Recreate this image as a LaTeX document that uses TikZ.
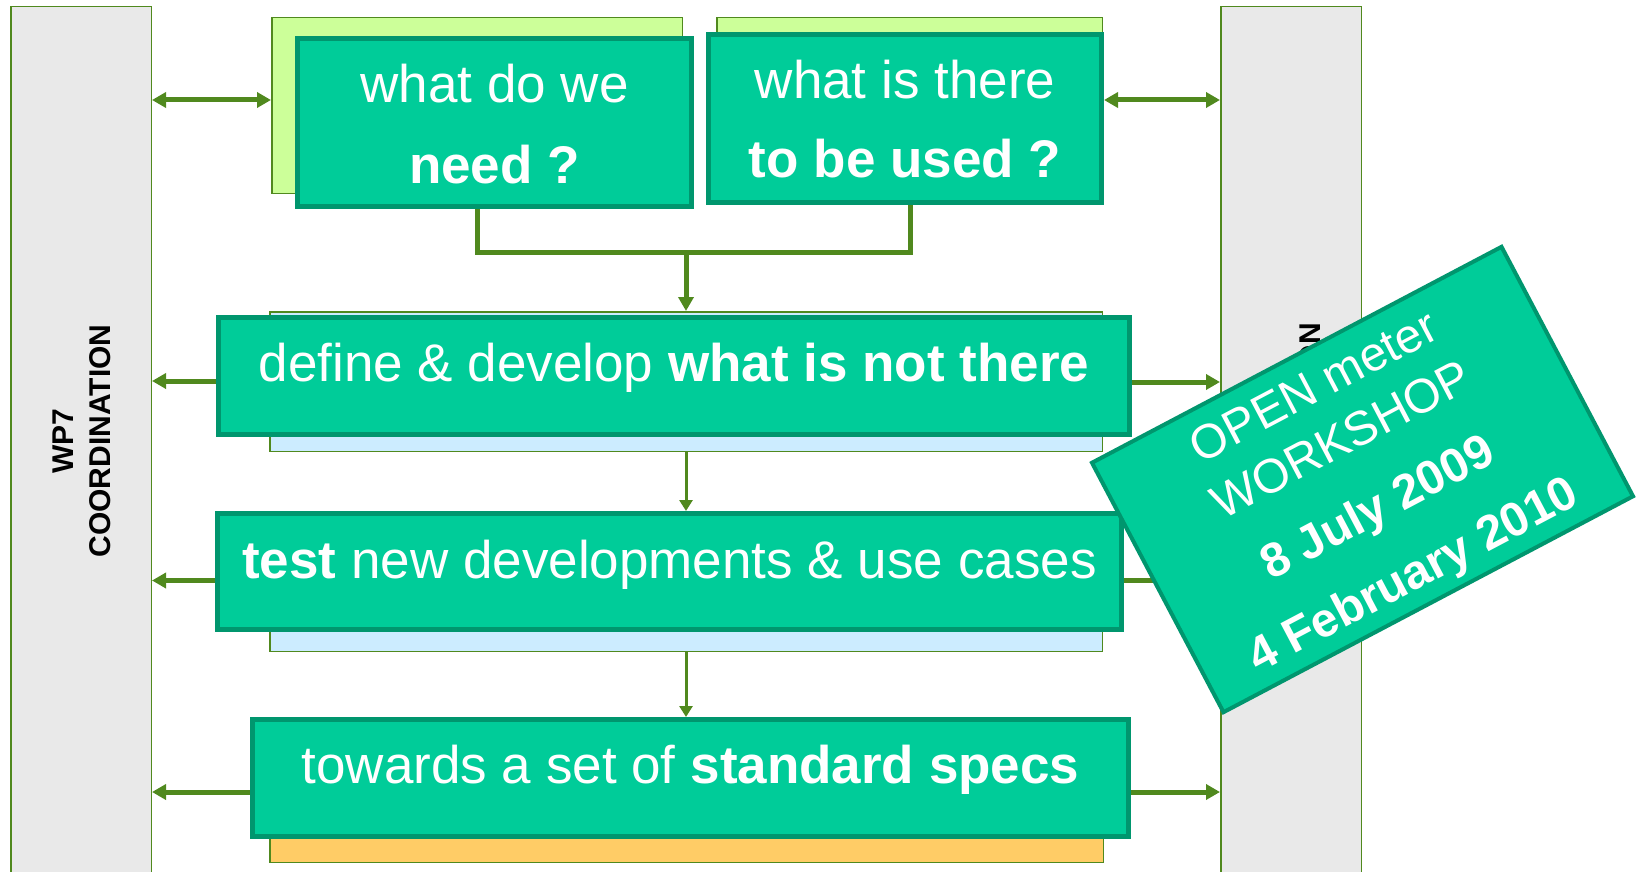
\documentclass[tikz,border=0pt]{standalone}
\usepackage{fontspec}
\setmainfont{Liberation Sans}
\usetikzlibrary{arrows.meta}
\definecolor{mainfill}{RGB}{0,204,153}
\definecolor{mainborder}{RGB}{0,150,110}
\definecolor{lgreen}{RGB}{204,255,153}
\definecolor{lblue}{RGB}{204,236,255}
\definecolor{lorange}{RGB}{255,204,102}
\definecolor{barfill}{RGB}{233,233,233}
\definecolor{conn}{RGB}{80,137,30}
\begin{document}
\begin{tikzpicture}[x=1pt,y=-1pt,
  bar/.style={draw=conn, line width=1.5pt, fill=barfill, inner sep=0pt, minimum width=140.5pt, minimum height=892.5pt},
  backbox/.style={draw=conn, line width=1.5pt, inner sep=0pt},
  mainbox/.style={draw=mainborder, fill=mainfill, line width=5pt, inner sep=0pt},
  big/.style={text=white, font=\fontsize{53}{63}\selectfont, inner sep=0pt, anchor=base},
  wtext/.style={text=white, font=\fontsize{48}{58}\selectfont, inner sep=0pt, anchor=base},
  bartext/.style={text=black, font=\fontsize{30}{36}\selectfont\bfseries, inner sep=0pt, rotate=90},
  thickconn/.style={draw=conn, line width=5pt},
  thinconn/.style={draw=conn, line width=3pt, -{Triangle[width=13pt,length=11pt]}},
  sidearrow/.style={draw=conn, line width=5pt},
  tip/.style={-{Triangle[width=15pt,length=14pt]}},
  dtip/.style={{Triangle[width=15pt,length=14pt]}-{Triangle[width=15pt,length=14pt]}}
]
\useasboundingbox (0,0) rectangle (1641,872);

% side bars
\node[bar] (lbar) at (81,453) {};
\node[bar] (rbar) at (1291,453) {};
\node[bartext, anchor=base] (wp7) at (73,441) {WP7};
\node[bartext, anchor=base] (coord) at (110,441) {COORDINATION};
\node[bartext, anchor=base east] (rtext) at (1320,323) {ON};

% back boxes
\node[backbox, fill=lgreen, minimum width=410.5pt, minimum height=175.5pt] (gback1) at (477,105.5) {};
\node[backbox, fill=lgreen, minimum width=385.5pt, minimum height=175.5pt] (gback2) at (909.5,105.5) {};
\node[backbox, fill=lblue, minimum width=832.5pt, minimum height=139.5pt] (defback) at (686,381.5) {};
\node[backbox, fill=lblue, minimum width=832.5pt, minimum height=137.5pt] (testback) at (686,582.5) {};
\node[backbox, fill=lorange, minimum width=833.5pt, minimum height=26.5pt] (stdback) at (686.5,849) {};

% main boxes
\node[mainbox, minimum width=394pt, minimum height=168pt] (need) at (494.5,122.5) {};
\node[mainbox, minimum width=393pt, minimum height=168pt] (used) at (905,118.5) {};
\node[mainbox, minimum width=911pt, minimum height=117pt] (define) at (674,376) {};
\node[mainbox, minimum width=904pt, minimum height=116pt] (test) at (669.5,571.5) {};
\node[mainbox, minimum width=876pt, minimum height=117pt] (std) at (690.5,778) {};

% texts of main boxes
\node[big] (need1) at (494.5,103) {what do we};
\node[big] (need2) at (494.5,183) {\textbf{need ?}};
\node[big] (used1) at (905,99) {what is there};
\node[big] (used2) at (905,178) {\textbf{to be used ?}};
\node[big] (deft) at (674,381) {define \& develop \textbf{what is not there}};
\node[big] (testt) at (669.5,578) {\textbf{test} new developments \& use cases};
\node[big] (stdt) at (690.5,783) {towards a set of \textbf{standard specs}};

% connectors between boxes
\coordinate (j) at (686,252);
\draw[thickconn] ([xshift=-17.5pt]need.south) |- (j);
\draw[thickconn] ([xshift=5pt]used.south) |- (j);
\draw[thickconn, tip] (j) -- (defback.north);
\draw[thinconn] (defback.south) -- (defback.south |- test.north);
\draw[thinconn] (testback.south) -- (testback.south |- std.north);

% side arrows
\coordinate (a1) at ([yshift=5.5pt]gback1.west);
\draw[sidearrow, dtip] (a1 -| lbar.east) -- (a1);
\coordinate (a2) at ([yshift=18.5pt]used.east);
\draw[sidearrow, dtip] (a2) -- (a2 -| rbar.west);
\coordinate (a3) at ([yshift=-5pt]define.west);
\draw[sidearrow, tip] (a3) -- (a3 -| lbar.east);
\coordinate (a4) at ([yshift=-6pt]define.east);
\draw[sidearrow, tip] (a4) -- (a4 -| rbar.west);
\coordinate (a5) at ([yshift=-9pt]test.west);
\draw[sidearrow, tip] (a5) -- (a5 -| lbar.east);
\coordinate (a6) at ([yshift=-9pt]test.east);
\draw[sidearrow, tip] (a6) -- (a6 -| rbar.west);
\coordinate (a7) at ([yshift=-14pt]std.west);
\draw[sidearrow, tip] (a7) -- (a7 -| lbar.east);
\coordinate (a8) at ([yshift=-14pt]std.east);
\draw[sidearrow, tip] (a8) -- (a8 -| rbar.west);

% workshop label
\begin{scope}[shift={(1362.5,479.5)}, rotate=27.8, transform shape]
\node[mainbox, line width=4pt, minimum width=463pt, minimum height=282pt] (ws) at (0,0) {};
\node[wtext] (ws1) at (0,-89) {OPEN meter};
\node[wtext] (ws2) at (0,-29) {WORKSHOP};
\node[wtext] (ws3) at (0,47) {\textbf{8 July 2009}};
\node[wtext] (ws4) at (0,123) {\textbf{4 February 2010}};
\end{scope}
\end{tikzpicture}
\end{document}
